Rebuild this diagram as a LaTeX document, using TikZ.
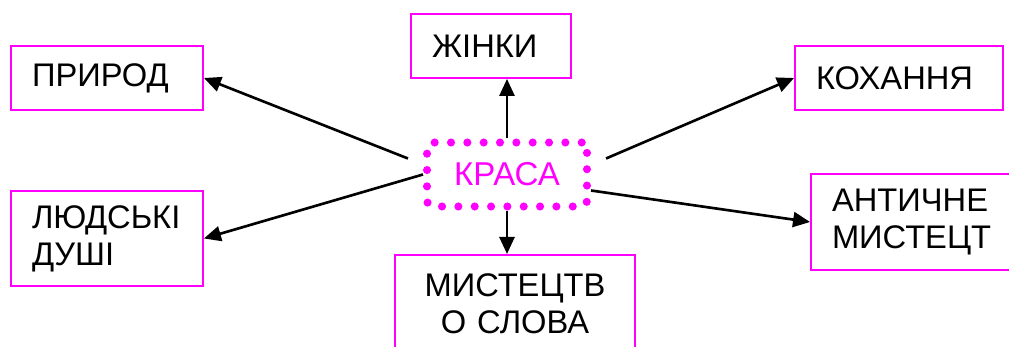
\documentclass[tikz,border=0pt]{standalone}
\usepackage{fontspec}
\setmainfont{Liberation Sans}
\usepackage{xcolor}
\usepackage{tikz}
\usetikzlibrary{arrows.meta}
\definecolor{framecolor}{RGB}{255,0,255}
\definecolor{arrowcolor}{RGB}{0,0,0}

\begin{document}
\begin{tikzpicture}[
    x=0.02cm, y=-0.02cm,
    box/.style={draw=framecolor, line width=1.1pt, inner ysep=0pt, inner xsep=0.42cm, minimum height=1.28cm, align=left, font=\fontsize{18.6}{21}\selectfont},
    centre/.style={draw=framecolor, line width=4.6pt, dash pattern=on 0pt off 9.3pt, line cap=round, rounded corners=3pt, minimum width=3.2cm, minimum height=1.28cm, text=framecolor, font=\fontsize{18.8}{21}\selectfont},
    flow/.style={-{Triangle[length=0.34cm, width=0.3cm]}, line width=1.5pt, arrowcolor}
]
    \useasboundingbox (0,0) rectangle (1009,347);
    \clip (0,0) rectangle (1009,347);

    % Centre
    \node[centre] (krasa) at (507,174.5) {КРАСА};

    % Left
    \node[box, minimum width=3.84cm, text width=3cm] (pryroda) at (107,78) {ПРИРОД};
    \node[box, minimum width=3.84cm, text width=3cm, minimum height=1.9cm] (dushi) at (107,238.5) {ЛЮДСЬКІ\\ДУШІ};

    % Top and bottom
    \node[box, minimum width=3.2cm, text width=2.36cm] (zhinky) at (491,46) {ЖІНКИ};
    \node[box, anchor=north, minimum width=4.8cm, text width=3.96cm, inner ysep=0.38cm, align=center] (slovo) at (515,254) {МИСТЕЦТВ\\О СЛОВА};

    % Right
    \node[box, minimum width=4.16cm, text width=3.32cm] (kokhannia) at (899,78) {КОХАННЯ};
    \node[box, minimum width=4.4cm, text width=3.56cm, minimum height=1.92cm] (antychne) at (921,222) {АНТИЧНЕ\\МИСТЕЦТ};

    % Arrows
    \draw[flow] ([shift={(-15,-16)}]krasa.west) -- (pryroda.east);
    \draw[flow] (krasa.west) -- (dushi.east);
    \draw[flow] (krasa.north) -- (zhinky.south -| krasa.north);
    \draw[flow] (krasa.south) -- (slovo.north -| krasa.south);
    \draw[flow] ([shift={(15,-16)}]krasa.east) -- (kokhannia.west);
    \draw[flow] ([shift={(0,16)}]krasa.east) -- (antychne.west);

\end{tikzpicture}
\end{document}
